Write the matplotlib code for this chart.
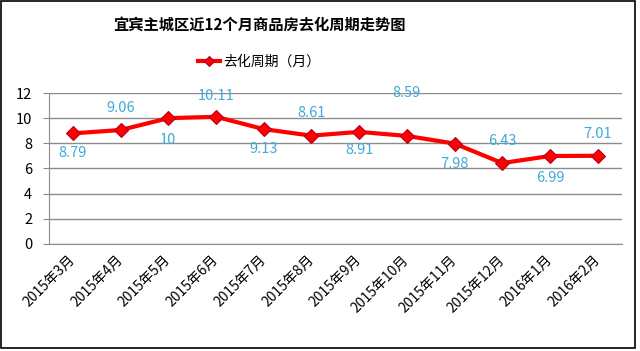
import matplotlib
matplotlib.use("Agg")
import matplotlib.pyplot as plt
from matplotlib.patches import Rectangle

plt.rcParams['font.family'] = ['Noto Sans CJK SC', 'DejaVu Sans']

# données
months = ["2015年3月", "2015年4月", "2015年5月", "2015年6月", "2015年7月", "2015年8月",
          "2015年9月", "2015年10月", "2015年11月", "2015年12月", "2016年1月", "2016年2月"]
cycle = [8.79, 9.06, 10, 10.11, 9.13, 8.61, 8.91, 8.59, 7.98, 6.43, 6.99, 7.01]
label_text = ["8.79", "9.06", "10", "10.11", "9.13", "8.61", "8.91", "8.59", "7.98", "6.43", "6.99", "7.01"]
# décalage vertical des étiquettes (en points)
label_dy = [-14, 16, -16, 15, -14, 16, -13, 31, -15, 16, -16, 16]

fig = plt.figure(figsize=(6.4, 3.51), dpi=100)
ax = fig.add_axes([0.0766, 0.305, 0.8945, 0.43])

x = list(range(len(months)))
ax.plot(x, cycle, color="#FF0000", linewidth=3, marker="D", markersize=7,
        markerfacecolor="#FF0000", markeredgecolor="#B00020", markeredgewidth=0.8,
        label="去化周期（月）", zorder=3)

for i in range(len(x)):
    ax.annotate(label_text[i], (x[i], cycle[i]), xytext=(0, label_dy[i]),
                textcoords="offset points", ha="center", va="center",
                color="#3FA9DA", fontsize=10.5)

ax.set_xlim(-0.5, len(months) - 0.5)
ax.set_ylim(0, 12)
ax.set_yticks([0, 2, 4, 6, 8, 10, 12])
ax.yaxis.grid(True, color="#8C8C8C", linewidth=1)
ax.set_axisbelow(True)
for s in ["top", "right"]:
    ax.spines[s].set_visible(False)
for s in ["left", "bottom"]:
    ax.spines[s].set_color("#8C8C8C")
ax.tick_params(axis="y", length=4, color="#8C8C8C", pad=8, labelsize=10.5)
ax.tick_params(axis="x", length=0, pad=10, labelsize=10)
ax.set_xticks(x)
ax.set_xticklabels(months, rotation=45, ha="right", va="center", rotation_mode="anchor")

fig.text(0.406, 0.929, "宜宾主城区近12个月商品房去化周期走势图", ha="center", va="center",
         fontsize=11, fontweight="bold")
fig.legend(loc="center", bbox_to_anchor=(0.405, 0.823), frameon=False, fontsize=10,
           handlelength=1.6, handletextpad=0.2, markerscale=0.8)

fig.patches.append(Rectangle((0.002, 0.008), 0.99, 0.99, transform=fig.transFigure,
                             fill=False, edgecolor="black", linewidth=1.2))

fig.savefig("out.png", dpi=100)
